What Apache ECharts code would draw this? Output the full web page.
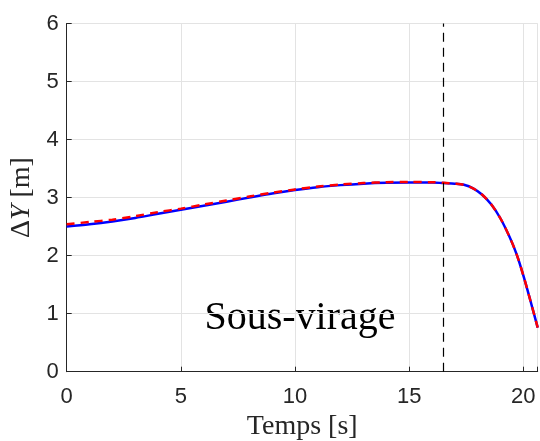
<!DOCTYPE html>
<html><head><meta charset="utf-8">
<script src="https://cdn.jsdelivr.net/npm/echarts@6/dist/echarts.min.js"></script>
<style>html,body{margin:0;padding:0;background:#fff}#c{width:540px;height:441px}</style>
</head><body><div id="c"></div>
<script>
const tBlue = [0,1,2,3,4,5,6,7,8,9,10,11,12,13,14,15,16,16.5,17,17.4,17.8,18.2,18.6,19.0,19.4,19.7,20.0,20.3,20.63];
const dyBlue = [2.50,2.54,2.59,2.65,2.72,2.79,2.86,2.93,3.00,3.07,3.13,3.18,3.215,3.24,3.255,3.26,3.26,3.25,3.24,3.22,3.16,3.05,2.88,2.64,2.32,2.03,1.66,1.24,0.76];
const tRed = [0,1,2,3,4,5,6,7,8,9,10,11,12,13,14,15,16,16.5,17,17.4,17.8,18.2,18.6,19.0,19.4,19.7,20.0,20.3,20.63];
const dyRed = [2.54,2.58,2.62,2.68,2.75,2.81,2.88,2.95,3.02,3.085,3.14,3.19,3.225,3.25,3.265,3.27,3.265,3.255,3.24,3.22,3.16,3.05,2.88,2.64,2.32,2.03,1.66,1.24,0.76];
const xTicks = [0,5,10,15,20];
const yTicks = [0,1,2,3,4,5,6];
const vLineX = 16.5;
const annotation = 'Sous-virage';
const xLabel = 'Temps [s]';

const chart = echarts.init(document.getElementById('c'), null, {renderer:'canvas'});
const axisCol = '#262626';
chart.setOption({
  animation:false,
  backgroundColor:'#fff',
  grid:{left:66.7, right:2.3, top:23.5, bottom:69.3, containLabel:false, outerBoundsMode:'none'},
  xAxis:{type:'value', min:0, max:20.63, interval:5,
    axisLine:{lineStyle:{color:axisCol,width:1}},
    axisTick:{inside:true,length:5,lineStyle:{color:axisCol}},
    axisLabel:{color:axisCol,fontFamily:'Liberation Sans',fontSize:22,margin:14,
      formatter:v=>xTicks.includes(v)?String(v):''},
    splitLine:{show:true,lineStyle:{color:'#e3e3e3',width:1}},
    name:xLabel, nameLocation:'middle', nameGap:41,
    nameTextStyle:{fontFamily:'Liberation Serif',fontSize:28,color:axisCol}
  },
  yAxis:{type:'value', min:0, max:6, interval:1,
    axisLine:{show:true,lineStyle:{color:axisCol,width:1}},
    axisTick:{show:true,inside:true,length:5,lineStyle:{color:axisCol}},
    axisLabel:{color:axisCol,fontFamily:'Liberation Sans',fontSize:22,margin:8,
      formatter:v=>yTicks.includes(v)?String(v):''},
    splitLine:{show:true,lineStyle:{color:'#e3e3e3',width:1}},
    name:'{a|Δ}{c|Y}{b| [m]}', nameLocation:'middle', nameGap:31,
    nameTextStyle:{rich:{
      a:{fontFamily:'Liberation Serif',fontSize:28,color:axisCol},
      c:{fontFamily:'Liberation Serif',fontSize:28,color:axisCol,fontStyle:'italic'},
      b:{fontFamily:'Liberation Serif',fontSize:28,color:axisCol}}}
  },
  series:[
    {type:'line', data:tBlue.map((t,i)=>[t,dyBlue[i]]), showSymbol:false, smooth:0.3,
      lineStyle:{color:'#0000ff',width:2.5}, z:2,
      markLine:{silent:true,symbol:'none',label:{show:false},
        lineStyle:{color:'#000',type:[9,6],width:1.2},
        data:[{xAxis:vLineX}]}},
    {type:'line', data:tRed.map((t,i)=>[t,dyRed[i]]), showSymbol:false, smooth:0.3,
      lineStyle:{color:'#ff0000',width:2.5,type:[8,6]}, z:3}
  ],
  graphic:[{type:'text', x:300, y:318,
    style:{text:annotation, fontFamily:'Liberation Serif', fontSize:40, fill:'#000',
      textAlign:'center', textVerticalAlign:'middle'}}]
});
</script></body></html>
